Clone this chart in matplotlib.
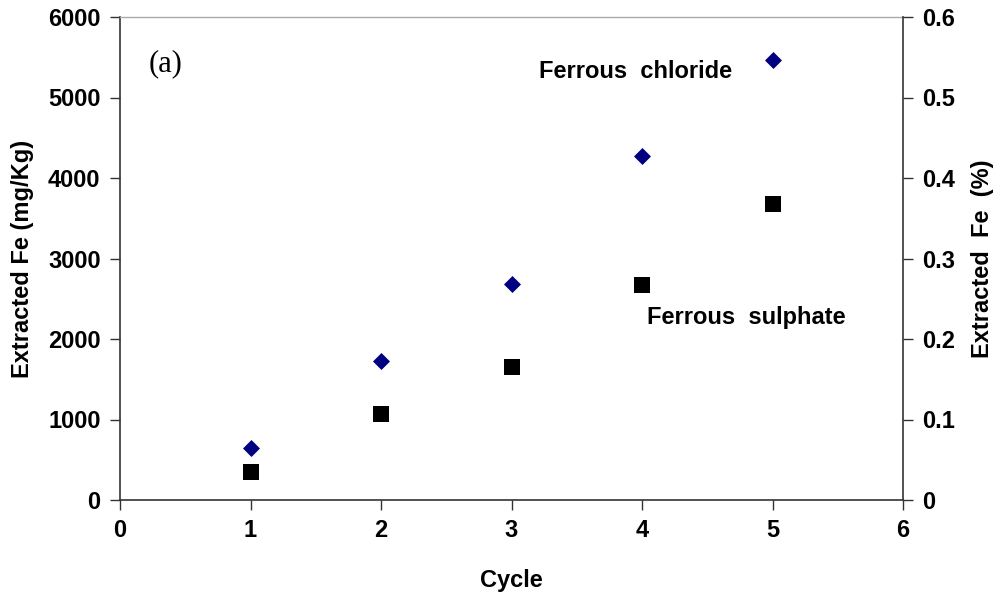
import numpy as np
import matplotlib.pyplot as plt

# ==========================
# Data
# ==========================

cycles = [1, 2, 3, 4, 5]
ferrous_chloride = [645, 1728, 2685, 4272, 5465]
ferrous_sulphate = [348, 1068, 1652, 2671, 3678]

x_ticks = [0, 1, 2, 3, 4, 5, 6]
y_ticks = [0, 1000, 2000, 3000, 4000, 5000, 6000]
pct_ticks = [0, 0.1, 0.2, 0.3, 0.4, 0.5, 0.6]

plt.rcParams['font.family'] = ['Liberation Sans', 'DejaVu Sans']
plt.rcParams['font.weight'] = 'bold'

FS = 17

fig = plt.figure(figsize=(9.97, 5.97), dpi=100)
ax = fig.add_axes([120 / 997, 1 - 500 / 597, (903 - 120) / 997, (500 - 17) / 597])

ax.scatter(cycles, ferrous_chloride, marker='D', s=75, color='#000080',
           linewidths=0, zorder=3, clip_on=False)
ax.scatter(cycles, ferrous_sulphate, marker='s', s=135, color='black',
           linewidths=0, zorder=3, clip_on=False)

ax.set_xlim(0, 6)
ax.set_ylim(0, 6000)
ax.set_xticks(x_ticks)
ax.set_yticks(y_ticks)
ax.set_xticklabels([str(t) for t in x_ticks])
ax.set_yticklabels([str(t) for t in y_ticks])

for side in ['left', 'bottom']:
    ax.spines[side].set_color('#333333')
    ax.spines[side].set_linewidth(1.2)
ax.spines['top'].set_color('#aaaaaa')
ax.spines['top'].set_linewidth(1.0)
ax.spines['right'].set_visible(False)

ax.tick_params(axis='both', direction='out', length=7, width=1.0,
               color='#333333', labelsize=FS, pad=7)

ax.set_xlabel('Cycle', fontsize=FS, fontweight='bold', labelpad=19)
ax.set_ylabel('Extracted Fe (mg/Kg)', fontsize=FS, fontweight='bold', labelpad=10)

# Secondary axis in percent
ax2 = ax.twinx()
ax2.set_ylim(0, 0.6)
ax2.set_yticks(pct_ticks)
ax2.set_yticklabels(['0'] + [f'{t:.1f}' for t in pct_ticks[1:]])
for side in ['left', 'bottom', 'top']:
    ax2.spines[side].set_visible(False)
ax2.spines['right'].set_color('#333333')
ax2.spines['right'].set_linewidth(1.2)
ax2.tick_params(axis='y', direction='out', length=7, width=1.0,
                color='#333333', labelsize=FS, pad=7)
ax2.set_ylabel('Extracted  Fe  (%)', fontsize=FS, fontweight='bold', labelpad=11)

# Annotations
ax.text(0.22, 5420, '(a)', fontsize=22, fontweight='normal',
        family=['Liberation Serif', 'DejaVu Serif'], ha='left', va='center')
ax.text(3.95, 5317, 'Ferrous  chloride', fontsize=FS, ha='center', va='center')
ax.text(4.80, 2273, 'Ferrous  sulphate', fontsize=FS, ha='center', va='center')

fig.savefig('out.png', dpi=100)
